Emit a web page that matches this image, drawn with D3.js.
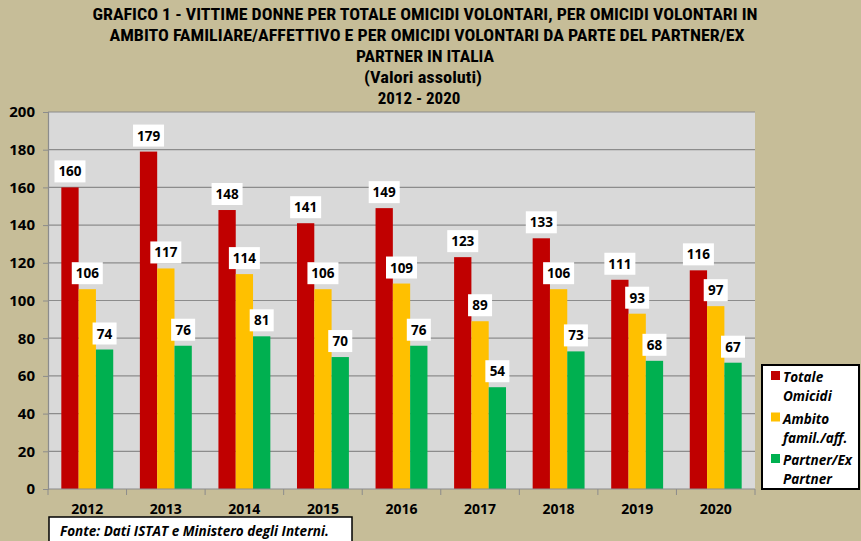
<!DOCTYPE html>
<html><head><meta charset="utf-8">
<script src="https://cdn.jsdelivr.net/npm/d3@7"></script>
<style>
html,body{margin:0;padding:0;background:#C6BD98;}
svg{display:block;}
</style></head>
<body>
<svg id="c" width="861" height="541"></svg>
<script>
const years = ["2012","2013","2014","2015","2016","2017","2018","2019","2020"];
const totale = [160,179,148,141,149,123,133,111,116];
const ambito = [106,117,114,106,109,89,106,93,97];
const partner = [74,76,81,70,76,54,73,68,67];
const seriesNames = ["Totale Omicidi","Ambito famil./aff.","Partner/Ex Partner"];
const legendLines = [["Totale","Omicidi"],["Ambito","famil./aff."],["Partner/Ex","Partner"]];
const yTicks = [0,20,40,60,80,100,120,140,160,180,200];
const titleLines = [
 "GRAFICO 1 - VITTIME DONNE PER TOTALE OMICIDI VOLONTARI, PER OMICIDI VOLONTARI IN",
 "AMBITO FAMILIARE/AFFETTIVO E PER OMICIDI VOLONTARI DA PARTE  DEL PARTNER/EX",
 "PARTNER IN ITALIA",
 "(Valori assoluti)",
 "2012 - 2020"
];
const source = "Fonte: Dati ISTAT e Ministero degli Interni.";
const colors = ["#C00000","#FFC000","#00B050"];

const series = [totale, ambito, partner];
const svg = d3.select("#c");
const W=861,H=541;
svg.append("rect").attr("width",W).attr("height",H).attr("fill","#C6BD98");

const L=48,R=755,T=112,B=489;
const x0 = d3.scaleBand().domain(years).range([L,R]).paddingInner(0).paddingOuter(0);
const x1 = d3.scaleBand().domain([0,1,2]).range([0,x0.bandwidth()]).paddingInner(0).paddingOuter(0.77);
const y = d3.scaleLinear().domain([0,200]).range([B,T]);

const titleFont = "'Liberation Sans Narrow','Arial Narrow','Roboto Condensed','Liberation Sans',sans-serif";
const bodyFont = "'Open Sans','DejaVu Sans',sans-serif";

// title
const tBase=[20,41,62,83,104];
const tLen=[665,635,138,118,null];
const tSize=[16,16,16,16,17];
const tX=[425,427,425,423,419];
titleLines.forEach((t,i)=>{
  const tx=svg.append("text").attr("x",tX[i]).attr("y",tBase[i]).attr("text-anchor","middle")
   .style("font-family",titleFont).style("font-weight","bold").style("font-size",tSize[i]+"px").attr("fill","#000").text(t);
  if(tLen[i]) tx.attr("textLength",tLen[i]).attr("lengthAdjust","spacingAndGlyphs");
});

// plot area
svg.append("rect").attr("x",L).attr("y",T).attr("width",R-L).attr("height",B-T).attr("fill","#D9D9D9");
// grid
svg.append("g").selectAll("line").data(yTicks.filter(d=>d>0)).join("line")
 .attr("x1",L).attr("x2",R).attr("y1",d=>y(d)).attr("y2",d=>y(d)).attr("stroke","#8C8C8C").attr("stroke-width",1.2);

// y axis
const ya = svg.append("g").attr("transform",`translate(${L},0)`)
 .call(d3.axisLeft(y).tickValues(yTicks).tickSize(5).tickPadding(8));
ya.select(".domain").attr("stroke","#8C8C8C").attr("stroke-width",1.2);
ya.selectAll(".tick line").attr("stroke","#8C8C8C");
ya.selectAll("text").style("font-family",bodyFont).style("font-weight","bold").style("font-size","15px").attr("fill","#000");

// bars
const g = svg.append("g");
years.forEach((yr,i)=>{
  series.forEach((s,j)=>{
    g.append("rect").attr("x",x0(yr)+x1(j)).attr("y",y(s[i])).attr("width",x1.bandwidth()).attr("height",B-y(s[i])).attr("fill",colors[j]);
  });
});

// x axis
const xa = svg.append("g").attr("transform",`translate(0,${B})`);
xa.append("line").attr("x1",L).attr("x2",R).attr("stroke","#8C8C8C").attr("stroke-width",1.2);
xa.selectAll("line.t").data(years.concat(["end"])).join("line").attr("class","t")
 .attr("x1",(d,i)=>L+i*x0.step()).attr("x2",(d,i)=>L+i*x0.step()).attr("y1",0).attr("y2",6).attr("stroke","#8C8C8C");
xa.selectAll("text").data(years).join("text").attr("x",d=>x0(d)+x0.bandwidth()/2).attr("y",25)
 .attr("text-anchor","middle").style("font-family",bodyFont).style("font-weight","bold").style("font-size","14px").attr("fill","#000").text(d=>d);

// labels
const lg = svg.append("g");
years.forEach((yr,i)=>{
  series.forEach((s,j)=>{
    const v=s[i];
    const cx=x0(yr)+x1(j)+x1.bandwidth()/2;
    const w = String(v).length===3?31:24;
    const by = y(v)-5;
    lg.append("rect").attr("x",cx-w/2).attr("y",by-22).attr("width",w).attr("height",22).attr("fill","#fff");
    lg.append("text").attr("x",cx).attr("y",by-6).attr("text-anchor","middle")
      .style("font-family",bodyFont).style("font-weight","bold").style("font-size","13.5px").attr("fill","#000").text(v);
  });
});

// legend
const leg = svg.append("g");
leg.append("rect").attr("x",762).attr("y",365).attr("width",97).attr("height",124).attr("fill","#fff").attr("stroke","#000").attr("stroke-width",2);
legendLines.forEach((ln,j)=>{
  const by=377+j*41.5;
  leg.append("rect").attr("x",771).attr("y",by-6).attr("width",9).attr("height",9).attr("fill",colors[j]);
  ln.forEach((t,k)=>{
    leg.append("text").attr("x",783).attr("y",by+5+k*19).style("font-family",bodyFont).style("font-weight","bold")
      .style("font-style","italic").style("font-size","13.5px").attr("fill","#000").text(t);
  });
});

// source
svg.append("rect").attr("x",49).attr("y",517).attr("width",303).attr("height",40).attr("fill","#fff").attr("stroke","#000").attr("stroke-width",1.5);
svg.append("text").attr("x",60).attr("y",536).style("font-family",bodyFont).style("font-weight","bold").style("font-style","italic")
 .style("font-size","13.5px").attr("fill","#000").text(source);
</script>
</body></html>
